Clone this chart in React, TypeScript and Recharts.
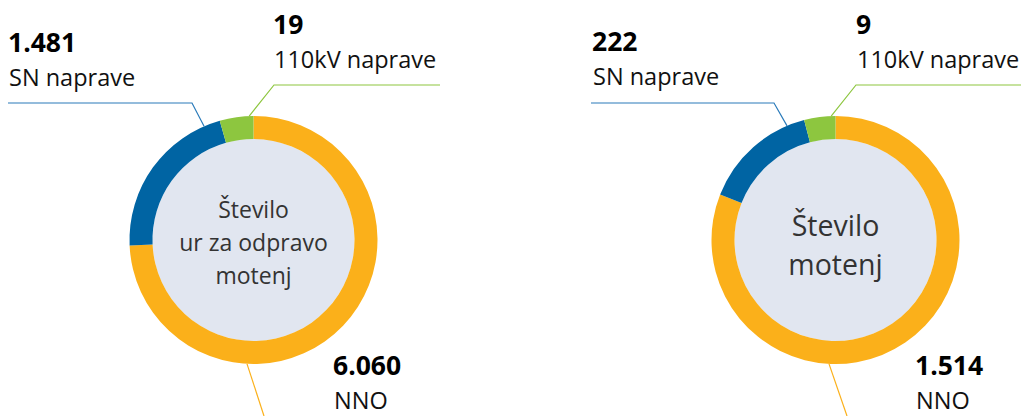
import React from "react";
import { PieChart, Pie, Cell } from "recharts";

const categories = ["NNO", "SN naprave", "110kV naprave"];
const hoursValues = [6060, 1481, 19];
const countValues = [1514, 222, 9];
const hoursLabels = ["6.060", "1.481", "19"];
const countLabels = ["1.514", "222", "9"];
const leftTitle = ["Število", "ur za odpravo", "motenj"];
const rightTitle = ["Število", "motenj"];

const COLORS = ["#FBB01A", "#0064A3", "#8DC63F"];
const LINE_COLORS = ["#FBB01A", "#2B7BBA", "#8DC63F"];
const CENTER_FILL = "#E1E6F0";
const FONT = "'Open Sans', sans-serif";

type LabelCfg = { angle: number; elbow?: [number, number]; end: [number, number]; tx: number; ty: number };

const leftCfg: LabelCfg[] = [
  { angle: 267, end: [264, 416], tx: 333, ty: 375 },
  { angle: 113.5, elbow: [192, 103], end: [8, 103], tx: 8, ty: 52 },
  { angle: 92, elbow: [274, 85], end: [440, 85], tx: 273, ty: 34 },
];
const rightCfg: LabelCfg[] = [
  { angle: 267, end: [847, 416], tx: 915, ty: 375 },
  { angle: 113, elbow: [774, 103], end: [591, 103], tx: 592, ty: 51 },
  { angle: 92, elbow: [856, 85], end: [1021, 85], tx: 856, ty: 34 },
];

const RAD = Math.PI / 180;
const polar = (cx: number, cy: number, r: number, a: number) => [cx + r * Math.cos(-a * RAD), cy + r * Math.sin(-a * RAD)];

const makeLabel = (cfg: LabelCfg[], nums: string[]) => (props: any) => {
  const { cx, cy, outerRadius, index } = props;
  const c = cfg[index];
  const [sx, sy] = polar(cx, cy, outerRadius, c.angle);
  const pts = [[sx, sy], ...(c.elbow ? [c.elbow] : []), c.end].map((p) => p.join(",")).join(" ");
  return (
    <g key={`lbl-${index}`}>
      <polyline points={pts} fill="none" stroke={LINE_COLORS[index]} strokeWidth={1.2} />
      <text x={c.tx} y={c.ty} fontFamily={FONT} fontWeight={700} fontSize={26.5} fill="#000">
        {nums[index]}
      </text>
      <text x={c.tx + 1} y={c.ty + 34} fontFamily={FONT} fontSize={23.5} fill="#111">
        {categories[index]}
      </text>
    </g>
  );
};

const makeCenter = (lines: string[], size: number, firstY: number, gap: number) => (props: any) => {
  const { cx, cy } = props;
  return (
    <text key="center" textAnchor="middle" fontFamily={FONT} fontSize={size} fill="#333">
      {lines.map((t, i) => (
        <tspan key={i} x={cx} y={cy + firstY + i * gap}>
          {t}
        </tspan>
      ))}
    </text>
  );
};

const toData = (vals: number[]) => categories.map((name, i) => ({ name, value: vals[i] }));
const single = [{ name: "center", value: 1 }];

export default function App() {
  const cy = 240;
  const lcx = 253.5;
  const rcx = 835.5;
  return (
    <div style={{ position: "absolute", left: 0, top: 0, width: 1021, height: 416, background: "#fff" }}>
      <PieChart width={1021} height={416} margin={{ top: 0, right: 0, bottom: 0, left: 0 }}>
        <Pie
          data={single}
          dataKey="value"
          cx={lcx}
          cy={cy}
          innerRadius={0}
          outerRadius={101}
          fill={CENTER_FILL}
          stroke="none"
          isAnimationActive={false}
          labelLine={false}
          label={makeCenter(leftTitle, 23, -22, 33)}
        />
        <Pie
          data={single}
          dataKey="value"
          cx={rcx}
          cy={cy}
          innerRadius={0}
          outerRadius={101}
          fill={CENTER_FILL}
          stroke="none"
          isAnimationActive={false}
          labelLine={false}
          label={makeCenter(rightTitle, 28.5, -4, 39)}
        />
        <Pie
          data={toData(hoursValues)}
          dataKey="value"
          cx={lcx}
          cy={cy}
          innerRadius={101}
          outerRadius={124}
          startAngle={90}
          endAngle={-270}
          minAngle={15}
          stroke="none"
          isAnimationActive={false}
          labelLine={false}
          label={makeLabel(leftCfg, hoursLabels)}
        >
          {hoursValues.map((_, i) => (
            <Cell key={i} fill={COLORS[i]} />
          ))}
        </Pie>
        <Pie
          data={toData(countValues)}
          dataKey="value"
          cx={rcx}
          cy={cy}
          innerRadius={101}
          outerRadius={124}
          startAngle={90}
          endAngle={-270}
          minAngle={13}
          stroke="none"
          isAnimationActive={false}
          labelLine={false}
          label={makeLabel(rightCfg, countLabels)}
        >
          {countValues.map((_, i) => (
            <Cell key={i} fill={COLORS[i]} />
          ))}
        </Pie>
      </PieChart>
    </div>
  );
}
